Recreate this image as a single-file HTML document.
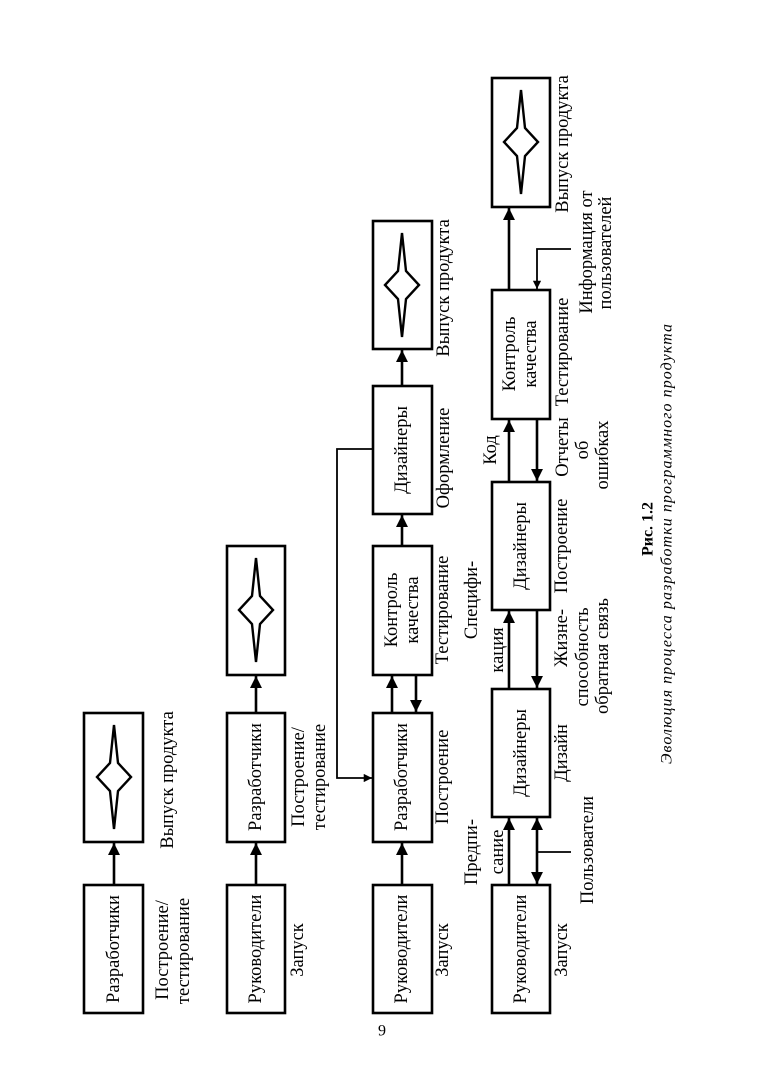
<!DOCTYPE html>
<html><head><meta charset="utf-8"><style>
html,body{margin:0;padding:0;background:#fff;}
svg{display:block;}
text{font-family:"Liberation Serif","DejaVu Serif",serif;font-size:18.5px;fill:#000;}
</style></head><body>
<svg width="763" height="1079" viewBox="0 0 763 1079" xmlns="http://www.w3.org/2000/svg">
<defs>
<marker id="a" viewBox="0 0 10 10" refX="10" refY="5" markerWidth="4.6" markerHeight="4.6" orient="auto" markerUnits="strokeWidth"><path d="M0,0 L10,5 L0,10 z" fill="#000"/></marker>
<polygon id="st" points="0,-52 4,-14 17,0 4,14 0,52 -4,14 -17,0 -4,-14" fill="none" stroke="#000" stroke-width="2.4" stroke-linejoin="miter"/>
</defs>
<g fill="none" stroke="#000" stroke-width="2.6">
<rect x="84" y="885" width="59" height="128"/>
<rect x="84" y="713" width="59" height="129"/>
<rect x="227" y="885" width="58" height="128"/>
<rect x="227" y="713" width="58" height="129"/>
<rect x="227" y="546" width="58" height="129"/>
<rect x="373" y="885" width="59" height="128"/>
<rect x="373" y="713" width="59" height="129"/>
<rect x="373" y="546" width="59" height="129"/>
<rect x="373" y="386" width="59" height="128"/>
<rect x="373" y="221" width="59" height="128"/>
<rect x="492" y="885" width="58" height="128"/>
<rect x="492" y="689" width="58" height="128"/>
<rect x="492" y="482" width="58" height="128"/>
<rect x="492" y="290" width="58" height="129"/>
<rect x="492" y="78" width="58" height="129"/>
</g>
<use href="#st" x="114" y="777"/>
<use href="#st" x="256" y="610"/>
<use href="#st" x="402" y="285"/>
<use href="#st" x="521" y="142"/>
<g fill="none" stroke="#000" stroke-width="2.6">
<line x1="114" y1="885" x2="114" y2="843" marker-end="url(#a)"/>
<line x1="256" y1="885" x2="256" y2="843" marker-end="url(#a)"/>
<line x1="256" y1="713" x2="256" y2="676" marker-end="url(#a)"/>
<line x1="402" y1="885" x2="402" y2="843" marker-end="url(#a)"/>
<line x1="392" y1="713" x2="392" y2="676" marker-end="url(#a)"/>
<line x1="416" y1="675" x2="416" y2="712" marker-end="url(#a)"/>
<line x1="402" y1="546" x2="402" y2="515" marker-end="url(#a)"/>
<line x1="402" y1="386" x2="402" y2="350" marker-end="url(#a)"/>
<polyline points="373,449 337,449 337,778 372,778" stroke-width="1.8" marker-end="url(#a)"/>
<line x1="509" y1="885" x2="509" y2="818" marker-end="url(#a)"/>
<line x1="537" y1="852" x2="537" y2="818" marker-end="url(#a)"/>
<line x1="537" y1="852" x2="537" y2="884" marker-end="url(#a)"/>
<line x1="537" y1="852" x2="571" y2="852" stroke-width="1.8"/>
<line x1="509" y1="689" x2="509" y2="611" marker-end="url(#a)"/>
<line x1="537" y1="610" x2="537" y2="688" marker-end="url(#a)"/>
<line x1="509" y1="482" x2="509" y2="420" marker-end="url(#a)"/>
<line x1="537" y1="419" x2="537" y2="481" marker-end="url(#a)"/>
<line x1="509" y1="290" x2="509" y2="208" marker-end="url(#a)"/>
<polyline points="571,249 537,249 537,289" stroke-width="1.8" marker-end="url(#a)"/>
</g>
<g text-anchor="middle" dominant-baseline="central">
<text transform="translate(114,949) rotate(-90)">Разработчики</text>
<text transform="translate(256,949) rotate(-90)">Руководители</text>
<text transform="translate(256,777) rotate(-90)">Разработчики</text>
<text transform="translate(402,949) rotate(-90)">Руководители</text>
<text transform="translate(402,777) rotate(-90)">Разработчики</text>
<text transform="translate(392,610) rotate(-90)">Контроль</text>
<text transform="translate(413,610) rotate(-90)">качества</text>
<text transform="translate(402,450) rotate(-90)">Дизайнеры</text>
<text transform="translate(521,949) rotate(-90)">Руководители</text>
<text transform="translate(521,753) rotate(-90)">Дизайнеры</text>
<text transform="translate(521,546) rotate(-90)">Дизайнеры</text>
<text transform="translate(510,354) rotate(-90)">Контроль</text>
<text transform="translate(531,354) rotate(-90)">качества</text>

<text transform="translate(163,950) rotate(-90)">Построение/</text>
<text transform="translate(184,951) rotate(-90)">тестирование</text>
<text transform="translate(168,780) rotate(-90)">Выпуск продукта</text>
<text transform="translate(298,950) rotate(-90)">Запуск</text>
<text transform="translate(299,777) rotate(-90)">Построение/</text>
<text transform="translate(320,777) rotate(-90)">тестирование</text>
<text transform="translate(443,950) rotate(-90)">Запуск</text>
<text transform="translate(443,777) rotate(-90)">Построение</text>
<text transform="translate(443,610) rotate(-90)">Тестирование</text>
<text transform="translate(444,458) rotate(-90)">Оформление</text>
<text transform="translate(444,288) rotate(-90)">Выпуск продукта</text>

<text transform="translate(562,950) rotate(-90)">Запуск</text>
<text transform="translate(562,753) rotate(-90)">Дизайн</text>
<text transform="translate(588,850) rotate(-90)">Пользователи</text>
<text transform="translate(472,852) rotate(-90)">Предпи-</text>
<text transform="translate(498,852) rotate(-90)">сание</text>
<text transform="translate(472,600) rotate(-90)">Специфи-</text>
<text transform="translate(498,650) rotate(-90)">кация</text>
<text transform="translate(562,638) rotate(-90)">Жизне-</text>
<text transform="translate(583,657) rotate(-90)">способность</text>
<text transform="translate(603,656) rotate(-90)">обратная связь</text>
<text transform="translate(562,546) rotate(-90)">Построение</text>
<text transform="translate(491,450) rotate(-90)">Код</text>
<text transform="translate(563,447) rotate(-90)">Отчеты</text>
<text transform="translate(583,450) rotate(-90)">об</text>
<text transform="translate(603,455) rotate(-90)">ошибках</text>
<text transform="translate(563,352) rotate(-90)">Тестирование</text>
<text transform="translate(587,252) rotate(-90)">Информация от</text>
<text transform="translate(606,253) rotate(-90)">пользователей</text>
<text transform="translate(563,144) rotate(-90)">Выпуск продукта</text>

<text transform="translate(648,529) rotate(-90)" style="font-weight:bold;font-size:16px">Рис. 1.2</text>
<text transform="translate(667,544) rotate(-90)" style="font-style:italic;font-size:16px" textLength="440" lengthAdjust="spacing">Эволюция процесса разработки программного продукта</text>
<text x="382" y="1031" style="font-size:16px">9</text>
</g>
</svg>
</body></html>
